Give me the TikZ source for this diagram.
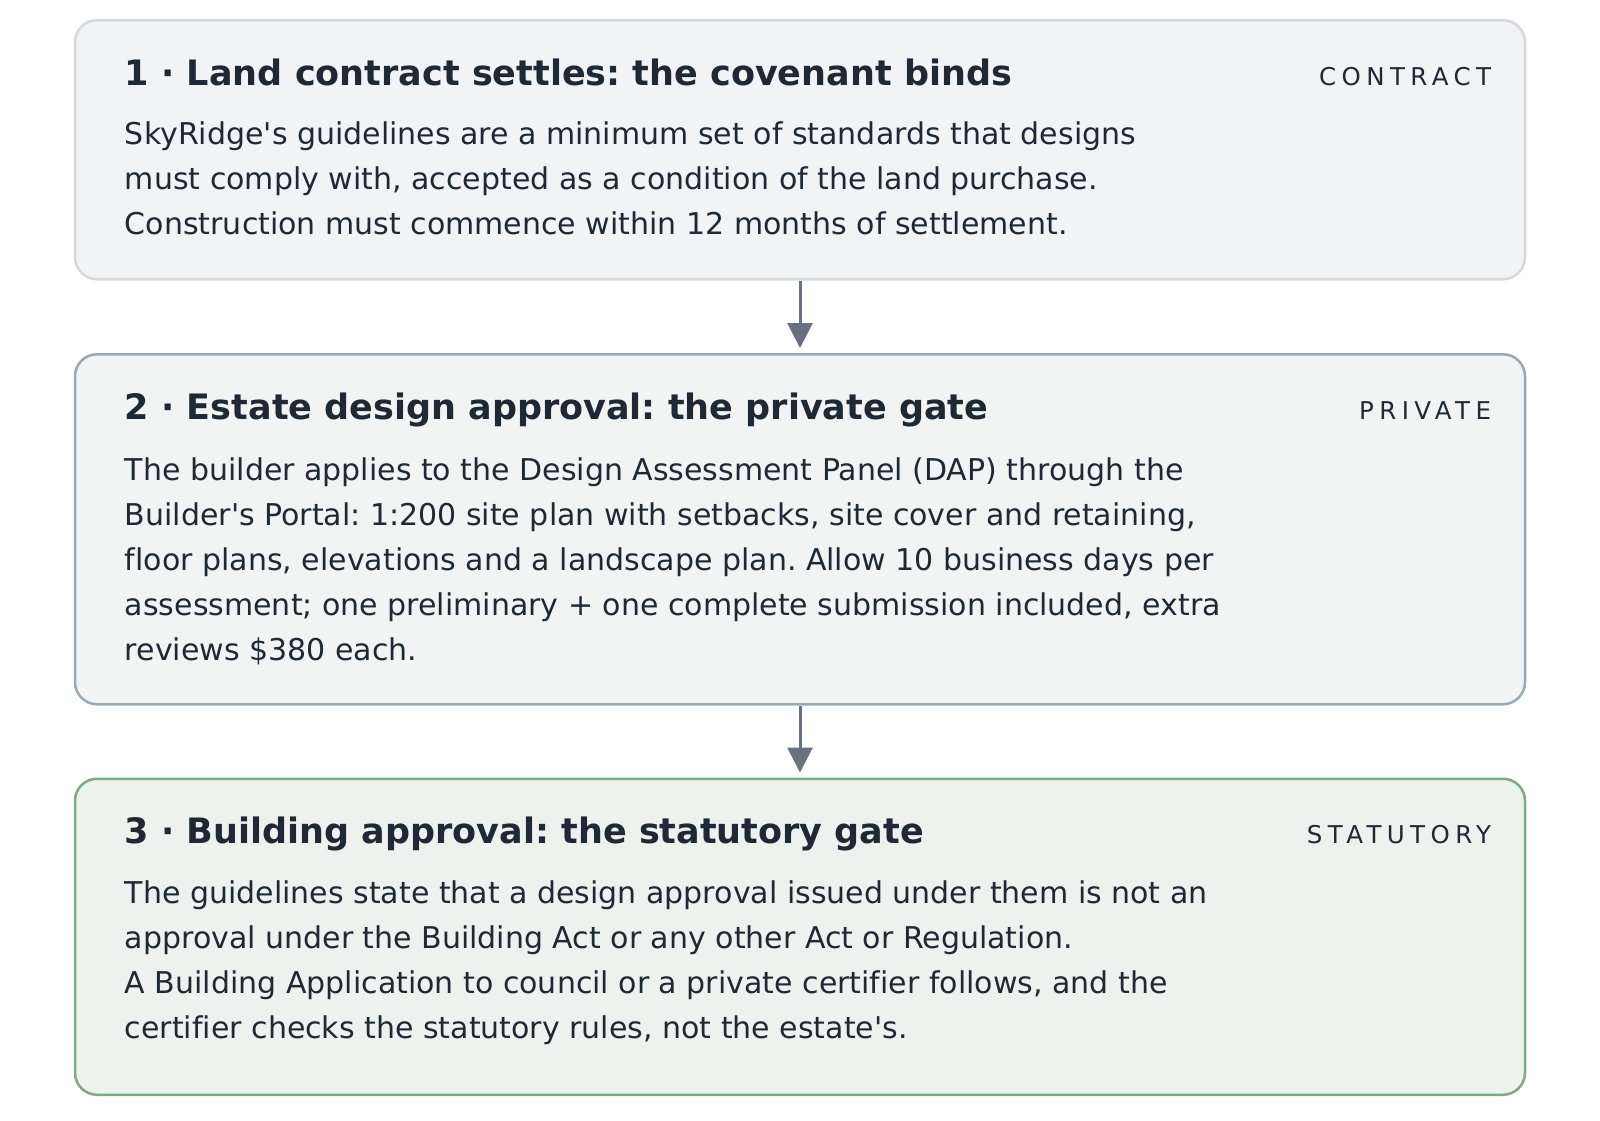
\documentclass[tikz,border=0pt]{standalone}
\usepackage{fontspec}
\setmainfont{DejaVu Sans}[Ligatures=NoCommon]
\frenchspacing
\usetikzlibrary{positioning, arrows.meta}
\definecolor{ink}{HTML}{1F2933}
\definecolor{arrowgray}{HTML}{6B7080}
\definecolor{contractfill}{HTML}{F1F3F5}
\definecolor{contractline}{HTML}{D5D9DE}
\definecolor{privatefill}{HTML}{F2F4F3}
\definecolor{privateline}{HTML}{9AAAB5}
\definecolor{statfill}{HTML}{EDF2EE}
\definecolor{statline}{HTML}{7FAA87}
\newcommand{\apos}{\textquotesingle}
\tikzset{
    stage/.style={draw, rounded corners=22pt, line width=2.5pt, minimum width=1450pt, inner sep=0pt, anchor=north}, % the three gate boxes
    stagetitle/.style={anchor=base west, inner sep=0pt, text=ink, font=\fontsize{35}{40}\selectfont\bfseries},
    stagebody/.style={anchor=base west, inner sep=0pt, text=ink, align=left, font=\fontsize{30}{45}\selectfont}, % anchored at its last line
    stagetag/.style={anchor=base east, inner sep=0pt, text=ink, font=\fontsize{24.5}{28}\selectfont\addfontfeature{LetterSpace=22}}, % spaced caps on the right
    flow/.style={-{Triangle[width=25pt,length=25pt]}, line width=3pt, draw=arrowgray, shorten >=5pt},
}
\begin{document}
\begin{tikzpicture}[x=1pt,y=-1pt]
\useasboundingbox (0,0) rectangle (1600,1120);
% boxes
\node[stage, fill=contractfill, draw=contractline, minimum height=259pt] (contract) at (800,19) {};
\node[stage, fill=privatefill, draw=privateline, minimum height=350pt, below=72.5pt of contract] (private) {};
\node[stage, fill=statfill, draw=statline, minimum height=316pt, below=72pt of private] (statutory) {};
% texts
\node[stagetitle] (t1) at ([xshift=51pt,yshift=-66pt]contract.north west) {1 · Land contract settles: the covenant binds};
\node[stagetag] (g1) at ([xshift=-35pt,yshift=-66pt]contract.north east) {CONTRACT};
\node[stagebody] (b1) at ([xshift=51pt,yshift=-215pt]contract.north west) {SkyRidge\apos s guidelines are a minimum set of standards that designs\\must comply with, accepted as a condition of the land purchase.\\Construction must commence within 12 months of settlement.};
\node[stagetitle] (t2) at ([xshift=51pt,yshift=-66pt]private.north west) {2 · Estate design approval: the private gate};
\node[stagetag] (g2) at ([xshift=-35pt,yshift=-66pt]private.north east) {PRIVATE};
\node[stagebody] (b2) at ([xshift=51pt,yshift=-307pt]private.north west) {The builder applies to the Design Assessment Panel (DAP) through the\\Builder\apos s Portal: 1:200 site plan with setbacks, site cover and retaining,\\floor plans, elevations and a landscape plan. Allow 10 business days per\\assessment; one preliminary + one complete submission included, extra\\reviews \$380 each.};
\node[stagetitle] (t3) at ([xshift=51pt,yshift=-66pt]statutory.north west) {3 · Building approval: the statutory gate};
\node[stagetag] (g3) at ([xshift=-35pt,yshift=-66pt]statutory.north east) {STATUTORY};
\node[stagebody] (b3) at ([xshift=51pt,yshift=-261pt]statutory.north west) {The guidelines state that a design approval issued under them is not an\\approval under the Building Act or any other Act or Regulation.\\A Building Application to council or a private certifier follows, and the\\certifier checks the statutory rules, not the estate\apos s.};
% arrows
\draw[flow] (contract) -- (private);
\draw[flow] (private) -- (statutory);
\end{tikzpicture}
\end{document}
